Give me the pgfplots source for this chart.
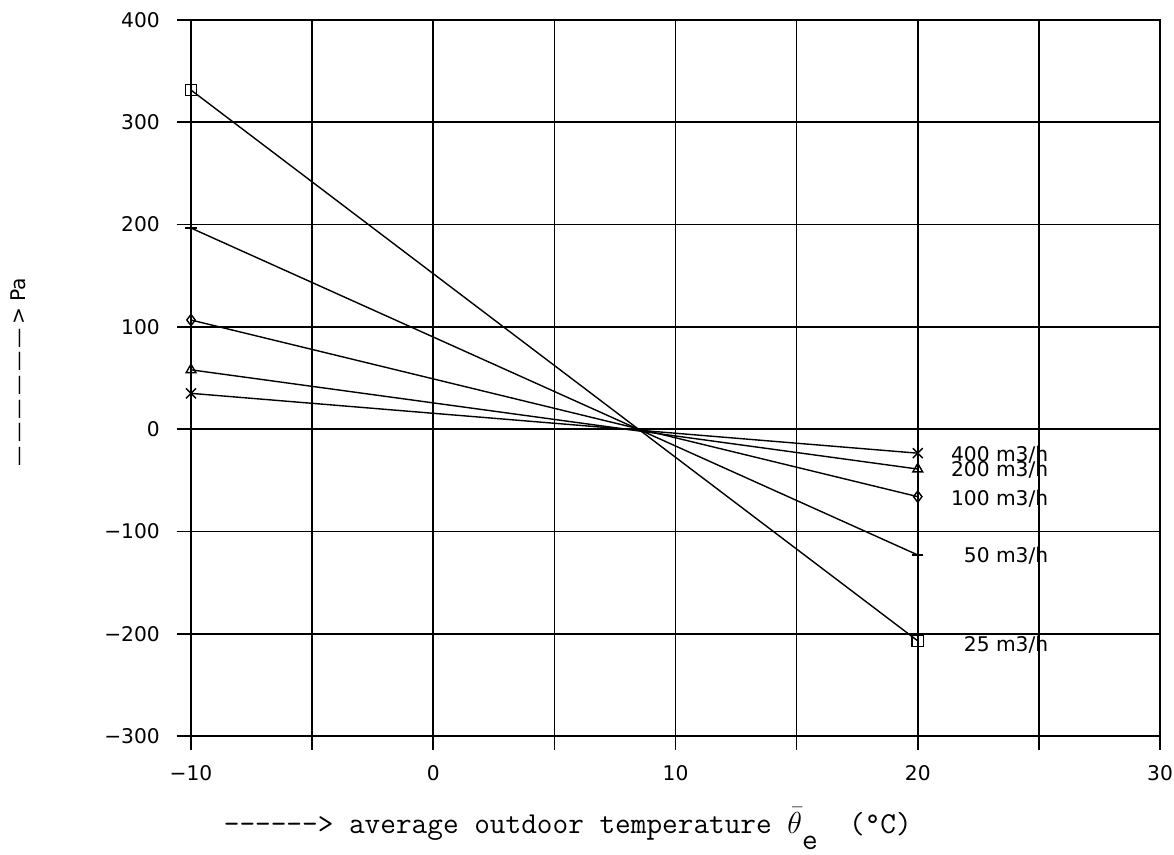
\documentclass[border=0pt]{standalone}
\usepackage{fontspec}
\setmainfont{DejaVu Sans}
\usepackage{pgfplots}
\pgfplotsset{compat=1.18}
\begin{document}
\begin{tikzpicture}
\path[use as bounding box] (-3.82,-2.36) rectangle (19.66,14.72);
\begin{axis}[
  at={(0,0)}, anchor=south west,
  width=19.38cm, height=14.32cm, scale only axis,
  xmin=-10, xmax=30, ymin=-300, ymax=400,
  xtick={-10,-5,...,30},
  xticklabels={−10,,0,,10,,20,,30},
  ytick={-300,-200,...,400},
  yticklabels={−300,−200,−100,0,100,200,300,400},
  grid=major,
  major grid style={black, line width=0.9pt},
  axis line style={black, line width=0.9pt},
  tick style={black, line width=0.9pt},
  tick align=outside, tick pos=left,
  major tick length=0.28cm,
  ticklabel style={font=\fontsize{11.5}{13}\selectfont},
  xticklabel style={yshift=-0.18cm},
  yticklabel style={xshift=-0.22cm},
  every axis plot/.append style={black, line width=0.8pt, mark size=3.2pt, mark options={solid, line width=0.8pt, fill=none}},
  clip=false,
]
% 25 m3/h
\addplot[mark=square] coordinates {(-10,331.5) (20,-207)};
% 50 m3/h
\addplot[mark=-] coordinates {(-10,196.6) (20,-123)};
% 100 m3/h
\addplot[mark=diamond] coordinates {(-10,106.7) (20,-66)};
% 200 m3/h
\addplot[mark=triangle] coordinates {(-10,58) (20,-39)};
% 400 m3/h
\addplot[mark=x, mark size=4pt] coordinates {(-10,35) (20,-23.5)};
\begin{scope}[every node/.style={font=\fontsize{11.5}{13}\selectfont, anchor=east, inner sep=0pt}]
\node at (axis cs:25.4,-25.3) {400 m3/h};
\node at (axis cs:25.4,-40) {200 m3/h};
\node at (axis cs:25.4,-68.3) {100 m3/h};
\node at (axis cs:25.4,-124) {50 m3/h};
\node at (axis cs:25.4,-211) {25 m3/h};
\end{scope}
\end{axis}
\node[anchor=base west, inner sep=0pt, font=\fontsize{17.3}{20}\ttfamily] at (0.65,-1.94)
  {------> average outdoor temperature $\bar{\theta}$\raisebox{-0.32cm}{e}\ \ (°C)};
\node[rotate=90, inner sep=0pt, font=\fontsize{11.5}{13}\selectfont] at (-3.46,7.28)
  {—\,—\,—\,—\,—\,—\,> Pa};
\end{tikzpicture}
\end{document}
